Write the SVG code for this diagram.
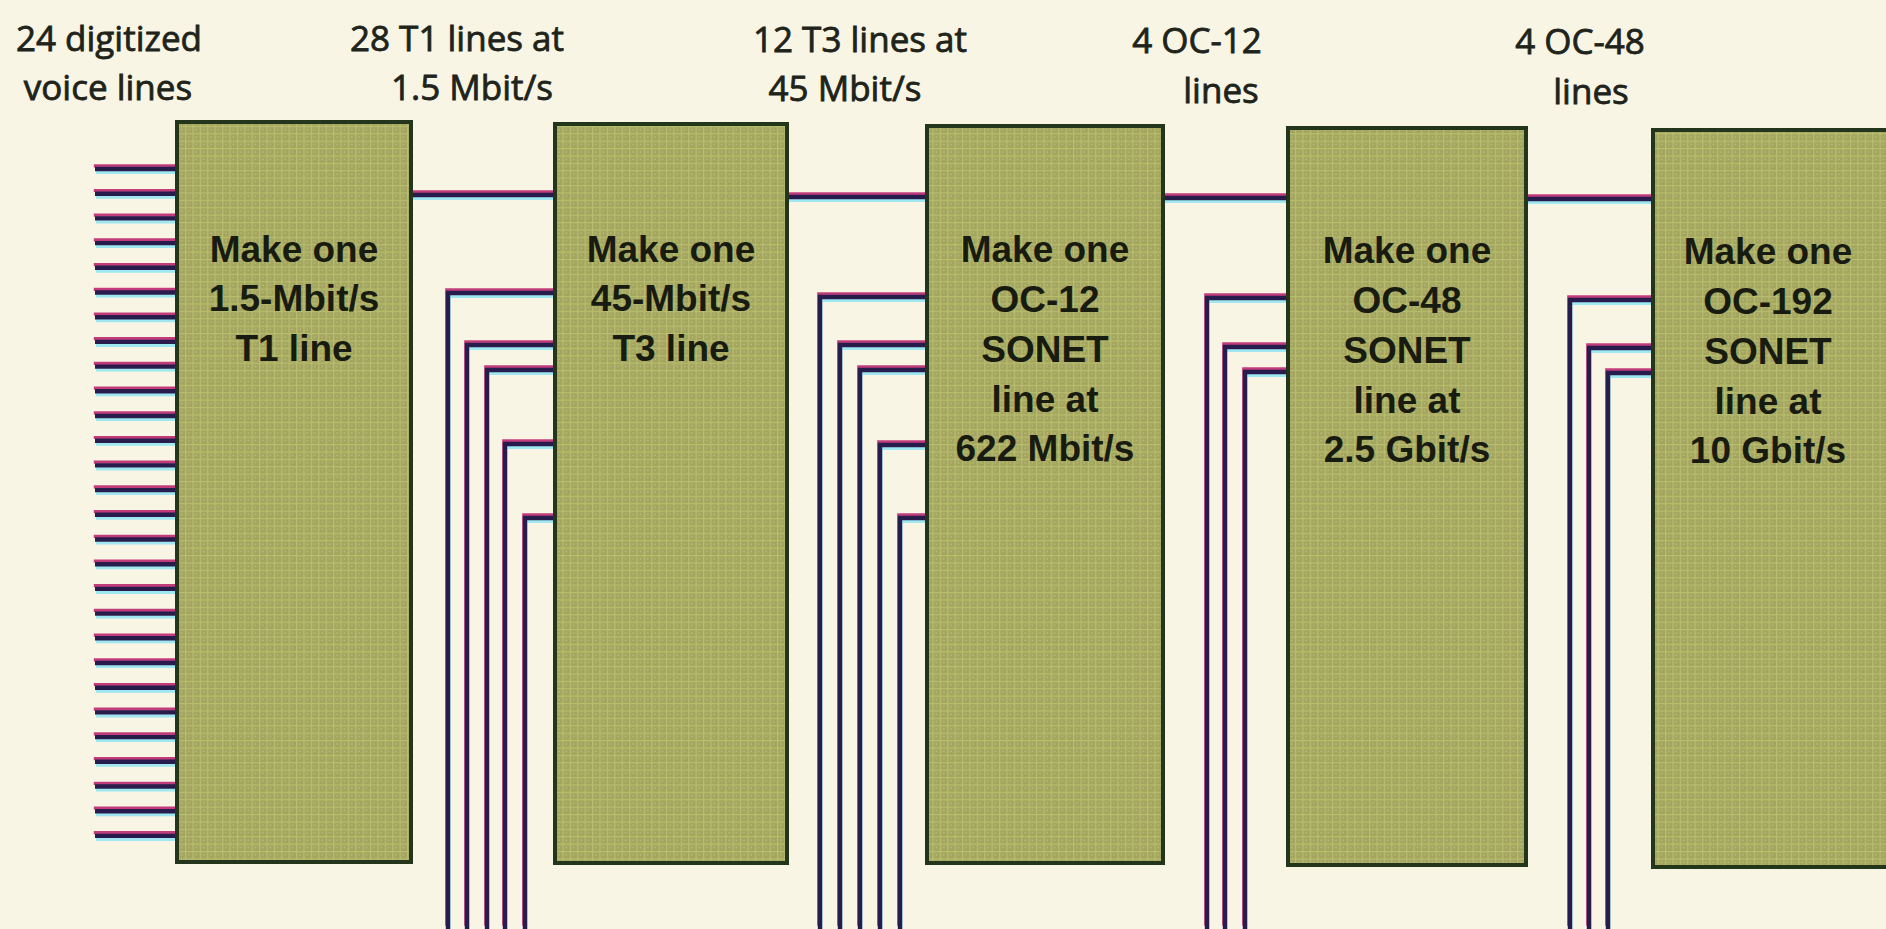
<svg xmlns="http://www.w3.org/2000/svg" xmlns:xlink="http://www.w3.org/1999/xlink" width="1886" height="929" viewBox="0 0 1886 929">
  <style>
    .bg { fill: #f8f5e5; }
    .box { fill: url(#grid); stroke: #23351a; stroke-width: 4; }
    .boxtext { font-family: "Liberation Sans", Arial, sans-serif; font-weight: bold; font-size: 37px; fill: #181c10; text-anchor: middle; }
    .label { font-family: "Open Sans", "Liberation Sans", sans-serif; font-size: 35px; fill: #20231a; stroke: #20231a; stroke-width: 0.8; text-anchor: middle; }
    .wire { fill: none; stroke-linecap: butt; stroke-linejoin: miter; }
    .ghost-m { stroke: #c23c7c; stroke-width: 3.2; }
    .ghost-c { stroke: #9fe8f2; stroke-width: 3.2; }
    .core { stroke: #271c4c; stroke-width: 4.4; }
  </style>
  <defs>
    <pattern id="grid" width="7.4" height="7.4" patternUnits="userSpaceOnUse">
      <rect width="7.4" height="7.4" fill="#a4a660"/>
      <path d="M0 0.6H7.4M0.6 0V7.4" stroke="#b8bd6e" stroke-width="1.2"/>
      <circle cx="4" cy="4" r="0.7" fill="#c4c588"/>
    </pattern>
    <g id="wire-geom">
      <path d="M95 169H177M95 193.7H177M95 218.4H177M95 243.1H177M95 267.8H177M95 292.5H177M95 317.2H177M95 341.9H177M95 366.6H177M95 391.3H177M95 416H177M95 440.7H177M95 465.4H177M95 490.1H177M95 514.8H177M95 539.5H177M95 564.2H177M95 588.9H177M95 613.6H177M95 638.3H177M95 663H177M95 687.7H177M95 712.4H177M95 737.1H177M95 761.8H177M95 786.5H177M95 811.2H177M95 835.9H177"/>
      <path d="M411 195H555M787 197H927M1163 198H1288M1526 199H1653"/>
      <path d="M448 929V293H555M467 929V345H555M487 929V370H555M505 929V444H555M525 929V518H555"/>
      <path d="M820 929V297H927M840 929V345H927M860 929V370H927M880 929V445H927M900 929V518H927"/>
      <path d="M1207 929V298H1288M1225 929V347H1288M1245 929V372H1288"/>
      <path d="M1570 929V300H1653M1589 929V348H1653M1608 929V373H1653"/>
    </g>
  </defs>

  <rect class="bg" x="0" y="0" width="1886" height="929"/>

  <g id="labels">
    <text class="label" x="109" y="51">24 digitized</text>
    <text class="label" x="108" y="100">voice lines</text>
    <text class="label" x="457" y="51">28 T1 lines at</text>
    <text class="label" x="472" y="100">1.5 Mbit/s</text>
    <text class="label" x="860" y="52">12 T3 lines at</text>
    <text class="label" x="845" y="101">45 Mbit/s</text>
    <text class="label" x="1197" y="53">4 OC-12</text>
    <text class="label" x="1221" y="103">lines</text>
    <text class="label" x="1580" y="54">4 OC-48</text>
    <text class="label" x="1591" y="104">lines</text>
  </g>

  <g id="connectors" class="wire">
    <use xlink:href="#wire-geom" href="#wire-geom" class="ghost-m" transform="translate(-1.2,-3.2)"/>
    <use xlink:href="#wire-geom" href="#wire-geom" class="ghost-c" transform="translate(1,3.4)"/>
    <use xlink:href="#wire-geom" href="#wire-geom" class="core"/>
  </g>

  <g id="box-t1">
    <rect class="box" x="177" y="122" width="234" height="740"/>
    <text class="boxtext" x="294" y="262">Make one<tspan x="294" dy="49">1.5-Mbit/s</tspan><tspan x="294" dy="50">T1 line</tspan></text>
  </g>
  <g id="box-t3">
    <rect class="box" x="555" y="124" width="232" height="739"/>
    <text class="boxtext" x="671" y="262">Make one<tspan x="671" dy="49">45-Mbit/s</tspan><tspan x="671" dy="50">T3 line</tspan></text>
  </g>
  <g id="box-oc12">
    <rect class="box" x="927" y="126" width="236" height="737"/>
    <text class="boxtext" x="1045" y="262">Make one<tspan x="1045" dy="50">OC-12</tspan><tspan x="1045" dy="50">SONET</tspan><tspan x="1045" dy="50">line at</tspan><tspan x="1045" dy="49">622 Mbit/s</tspan></text>
  </g>
  <g id="box-oc48">
    <rect class="box" x="1288" y="128" width="238" height="737"/>
    <text class="boxtext" x="1407" y="263">Make one<tspan x="1407" dy="50">OC-48</tspan><tspan x="1407" dy="50">SONET</tspan><tspan x="1407" dy="50">line at</tspan><tspan x="1407" dy="49">2.5 Gbit/s</tspan></text>
  </g>
  <g id="box-oc192">
    <rect class="box" x="1653" y="130" width="236" height="737"/>
    <text class="boxtext" x="1768" y="264">Make one<tspan x="1768" dy="50">OC-192</tspan><tspan x="1768" dy="50">SONET</tspan><tspan x="1768" dy="50">line at</tspan><tspan x="1768" dy="49">10 Gbit/s</tspan></text>
  </g>
</svg>
